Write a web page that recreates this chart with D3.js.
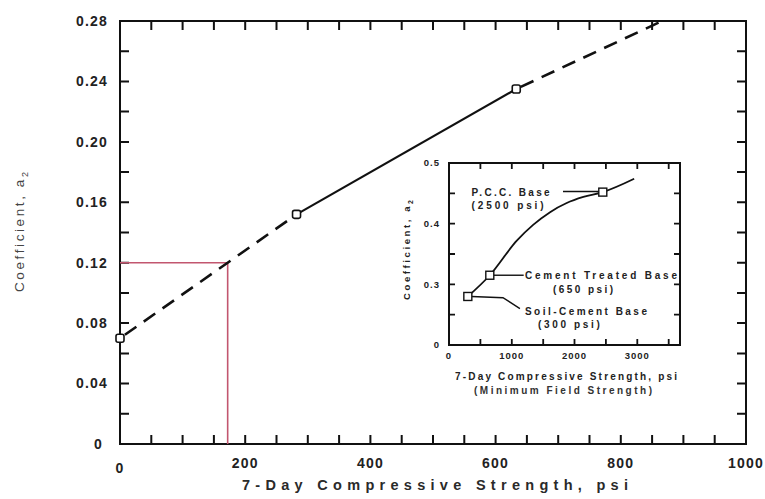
<!DOCTYPE html>
<html>
<head>
<meta charset="utf-8">
<script src="https://cdn.jsdelivr.net/npm/d3@7"></script>
<style>
  body { margin: 0; background: #fff; }
  svg { display: block; font-family: 'Liberation Sans', Arial, sans-serif; }
</style>
</head>
<body>
<svg id="chart" width="765" height="499"></svg>
<script>
  // main chart: a2 vs 7-day strength
  const curveDashLow = [[0, 0.07], [282, 0.152]];
  const curveSolid = [[282, 0.152], [633, 0.235]];
  const curveDashHigh = [[633, 0.235], [866, 0.28]];
  const markers = [[0, 0.07], [282, 0.152], [633, 0.235]];
  const readStrength = 172;
  const readCoef = 0.12;
  const xTickLabels = [0, 200, 400, 600, 800, 1000];
  const yTickLabels = [0, 0.04, 0.08, 0.12, 0.16, 0.20, 0.24, 0.28];

  // inset chart
  const insetCurve = [[300, 0.28], [650, 0.315], [1080, 0.372], [1340, 0.398],
    [1610, 0.419], [1875, 0.434], [2140, 0.444], [2450, 0.452], [2950, 0.474]];
  const insetBases = ['P.C.C. Base', 'Cement Treated Base', 'Soil-Cement Base'];
  const insetStrength = [2500, 650, 300];
  const insetMarkX = [2450, 650, 300];
  const insetCoef = [0.452, 0.315, 0.28];
  const insetXTicks = [0, 1000, 2000, 3000];
  const insetYTicks = [0.2, 0.3, 0.4, 0.5];
  const insetYTickText = ['0', '0.3', '0.4', '0.5'];

  const svg = d3.select('#chart');
  const ink = '#111';

  const x = d3.scaleLinear().domain([0, 1000]).range([120, 746]);
  const y = d3.scaleLinear().domain([0, 0.28]).range([444, 21]);

  // frame, then inward ticks on all four sides as one path
  function frameTicks(xs, ys, xStep, yStep, len, width) {
    const xv = d3.range(xs.domain()[0] + xStep, xs.domain()[1] - 1e-9, xStep);
    const yv = d3.range(ys.domain()[0] + yStep, ys.domain()[1] - 1e-9, yStep);
    const [x0, x1] = xs.range();
    const [y0, y1] = ys.range();
    let p = '';
    xv.forEach(v => {
      const px = xs(v).toFixed(1);
      p += `M${px},${y0}V${y0 - len}M${px},${y1}V${y1 + len}`;
    });
    yv.forEach(v => {
      const py = ys(v).toFixed(1);
      p += `M${x0},${py}H${x0 + len}M${x1},${py}H${x1 - len}`;
    });
    svg.append('rect')
        .attr('x', x0).attr('y', y1)
        .attr('width', x1 - x0).attr('height', y0 - y1)
        .attr('fill', 'none').attr('stroke', ink).attr('stroke-width', 2);
    svg.append('path')
        .attr('d', p)
        .attr('fill', 'none')
        .attr('stroke', ink)
        .attr('stroke-width', width);
  }

  frameTicks(x, y, 50, 0.02, 9, 2);

  // tick labels
  svg.append('g').selectAll('text')
      .data(xTickLabels)
      .enter().append('text')
      .attr('x', d => x(d))
      .attr('y', d => d === 0 ? 468 : 463)
      .attr('dy', '0.35em')
      .attr('text-anchor', 'middle')
      .attr('font-size', 14).attr('font-weight', 'bold')
      .attr('letter-spacing', 1.2)
      .attr('fill', '#222')
      .text(d => d);

  svg.append('g').selectAll('text')
      .data(yTickLabels)
      .enter().append('text')
      .attr('x', d => d === 0 ? 103 : 108)
      .attr('y', d => y(d))
      .attr('dy', '0.35em')
      .attr('text-anchor', 'end')
      .attr('font-size', 14).attr('font-weight', 'bold')
      .attr('letter-spacing', 1.2)
      .attr('fill', '#222')
      .text(d => d === 0 ? '0' : d3.format('.2f')(d));

  // axis titles
  svg.append('text')
      .attr('x', 435).attr('y', 490)
      .attr('text-anchor', 'middle')
      .attr('font-size', 14.5).attr('font-weight', 'bold')
      .attr('textLength', 386).attr('lengthAdjust', 'spacing')
      .attr('fill', '#2a2a2a')
      .text('7-Day Compressive Strength, psi');

  const yTitle = svg.append('text')
      .attr('transform', 'translate(24,232) rotate(-90)')
      .attr('text-anchor', 'middle')
      .attr('font-size', 13.5)
      .attr('textLength', 120).attr('lengthAdjust', 'spacing')
      .attr('fill', '#444');
  yTitle.append('tspan').text('Coefficient, a');
  yTitle.append('tspan').attr('font-size', 9).attr('dy', 4).text('2');

  // red reading lines
  svg.append('path')
      .attr('d', `M${x(0)},${y(readCoef)}H${x(readStrength)}V${y(0)}`)
      .attr('fill', 'none')
      .attr('stroke', '#c2566f')
      .attr('stroke-width', 1.6);

  // main curve
  const line = d3.line().x(d => x(d[0])).y(d => y(d[1]));
  svg.append('path').attr('d', line(curveDashLow))
      .attr('fill', 'none').attr('stroke', ink).attr('stroke-width', 2.6)
      .attr('stroke-dasharray', '14,9').attr('stroke-dashoffset', -6);
  svg.append('path').attr('d', line(curveSolid))
      .attr('fill', 'none').attr('stroke', ink).attr('stroke-width', 2.2);
  svg.append('path').attr('d', line(curveDashHigh))
      .attr('fill', 'none').attr('stroke', ink).attr('stroke-width', 2.6)
      .attr('stroke-dasharray', '14,9').attr('stroke-dashoffset', -5);

  svg.append('g').selectAll('rect')
      .data(markers)
      .enter().append('rect')
      .attr('x', d => x(d[0]) - 4).attr('y', d => y(d[1]) - 4)
      .attr('width', 8).attr('height', 8)
      .attr('rx', 2)
      .attr('fill', '#fff').attr('stroke', ink).attr('stroke-width', 1.6);

  // ---- inset ----
  const ix = d3.scaleLinear().domain([0, 3680]).range([449, 680]);
  const iy = d3.scaleLinear().domain([0.2, 0.5]).range([345, 163]);

  svg.append('rect')
      .attr('x', ix(0)).attr('y', iy(0.5))
      .attr('width', ix(3680) - ix(0)).attr('height', iy(0.2) - iy(0.5))
      .attr('fill', '#fff');
  frameTicks(ix, iy, 500, 0.05, 6, 1.8);

  svg.append('g').selectAll('text')
      .data(insetXTicks)
      .enter().append('text')
      .attr('x', d => ix(d)).attr('y', 356)
      .attr('dy', '0.35em').attr('text-anchor', 'middle')
      .attr('font-size', 9.5).attr('font-weight', 'bold')
      .attr('letter-spacing', 1).attr('fill', '#222')
      .text(d => d);

  svg.append('g').selectAll('text')
      .data(insetYTicks)
      .enter().append('text')
      .attr('x', 440).attr('y', d => iy(d))
      .attr('dy', '0.35em').attr('text-anchor', 'end')
      .attr('font-size', 9.5).attr('font-weight', 'bold')
      .attr('letter-spacing', 1).attr('fill', '#222')
      .text((d, i) => insetYTickText[i]);

  svg.append('text')
      .attr('x', 566).attr('y', 380)
      .attr('text-anchor', 'middle')
      .attr('font-size', 10).attr('font-weight', 'bold')
      .attr('textLength', 222).attr('lengthAdjust', 'spacing')
      .attr('fill', '#222')
      .text('7-Day Compressive Strength, psi');
  svg.append('text')
      .attr('x', 563).attr('y', 394)
      .attr('text-anchor', 'middle')
      .attr('font-size', 10).attr('font-weight', 'bold')
      .attr('textLength', 178).attr('lengthAdjust', 'spacing')
      .attr('fill', '#333')
      .text('(Minimum Field Strength)');

  const iyTitle = svg.append('text')
      .attr('transform', 'translate(410,250) rotate(-90)')
      .attr('text-anchor', 'middle')
      .attr('font-size', 9.5).attr('font-weight', 'bold')
      .attr('textLength', 100).attr('lengthAdjust', 'spacing')
      .attr('fill', '#222');
  iyTitle.append('tspan').text('Coefficient, a');
  iyTitle.append('tspan').attr('font-size', 7).attr('dy', 3).text('2');

  const iline = d3.line().x(d => ix(d[0])).y(d => iy(d[1])).curve(d3.curveMonotoneX);
  svg.append('path').attr('d', iline(insetCurve))
      .attr('fill', 'none').attr('stroke', ink).attr('stroke-width', 1.8);

  // leaders, in data units
  const leaders = [
    [[1816, 0.453], [2390, 0.453]],
    [[710, 0.315], [1190, 0.315]],
    [[360, 0.28], [860, 0.278], [1130, 0.26]]
  ];
  const plain = d3.line().x(d => ix(d[0])).y(d => iy(d[1]));
  svg.append('g').selectAll('path')
      .data(leaders)
      .enter().append('path')
      .attr('d', plain)
      .attr('fill', 'none').attr('stroke', ink).attr('stroke-width', 1.4);

  svg.append('g').selectAll('rect')
      .data(insetMarkX)
      .enter().append('rect')
      .attr('x', d => ix(d) - 4).attr('y', (d, i) => iy(insetCoef[i]) - 4)
      .attr('width', 8).attr('height', 8)
      .attr('fill', '#fff').attr('stroke', ink).attr('stroke-width', 1.4);

  const labelPos = [
    {x: 360, y: 0.452, sub: 360, subY: 0.43, w: 78, sw: 72},
    {x: 1210, y: 0.315, sub: 2135, subY: 0.292, w: 152, sw: 60},
    {x: 1210, y: 0.255, sub: 1910, subY: 0.234, w: 122, sw: 62}
  ];
  const labels = svg.append('g').attr('fill', '#222')
      .attr('font-size', 10).attr('font-weight', 'bold');
  insetBases.forEach((name, i) => {
    const q = labelPos[i];
    labels.append('text')
        .attr('x', ix(q.x)).attr('y', iy(q.y)).attr('dy', '0.35em')
        .attr('textLength', q.w).attr('lengthAdjust', 'spacing')
        .text(name);
    labels.append('text')
        .attr('x', i === 0 ? ix(q.sub) : ix(q.sub) - q.sw / 2)
        .attr('y', iy(q.subY)).attr('dy', '0.35em')
        .attr('textLength', q.sw).attr('lengthAdjust', 'spacing')
        .text(`(${insetStrength[i]} psi)`);
  });
</script>
</body>
</html>
